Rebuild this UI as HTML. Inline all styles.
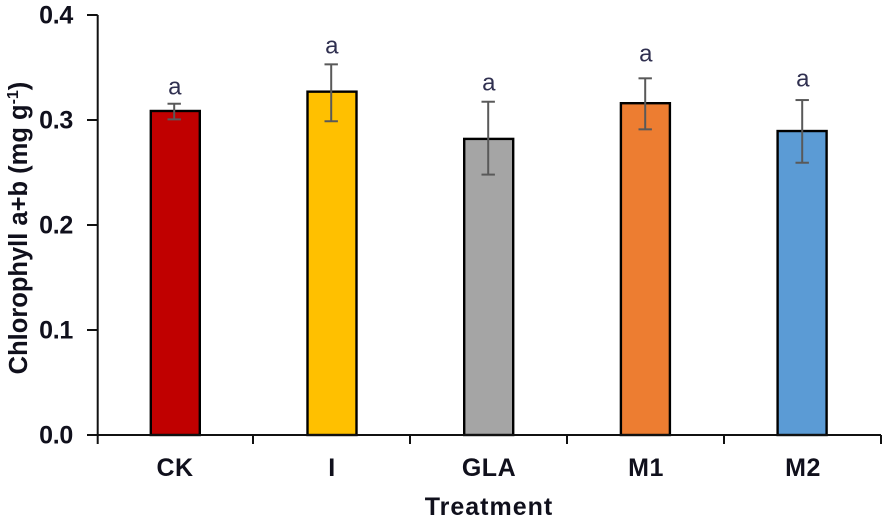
<!DOCTYPE html>
<html lang="en">
<head>
<meta charset="utf-8">
<title>Chlorophyll a+b by treatment</title>
<style>
html,body{margin:0;padding:0;background:#fff;}
svg{display:block;font-family:"Liberation Sans",Arial,sans-serif;filter:blur(0.35px);}
</style>
</head>
<body>
<svg id="chart" width="885" height="518" viewBox="0 0 885 518" xmlns="http://www.w3.org/2000/svg"></svg>
<script>
const categories = ['CK', 'I', 'GLA', 'M1', 'M2'];
const chlorophyll = [0.3086, 0.327, 0.282, 0.316, 0.2895];
const errorHigh = [0.3155, 0.353, 0.3174, 0.3397, 0.319];
const errorLow = [0.3006, 0.2988, 0.248, 0.2911, 0.2593];
const letterLabels = ['a', 'a', 'a', 'a', 'a'];
const letterHeights = [0.3245, 0.3633, 0.328, 0.3555, 0.332];
const barColors = ['#c00000', '#ffc000', '#a5a5a5', '#ed7d31', '#5b9bd5'];
const yTicks = [0, 0.1, 0.2, 0.3, 0.4];

const NS = 'http://www.w3.org/2000/svg';
const svg = document.getElementById('chart');
const axisLeft = 97.7;
const bandStart = 96;
const bandStep = 157;
const barStart = 175.3;
const barStep = 156.7;
const barWidth = 49;
const yBase = 435;
const yScale = 1050;
const x = i => bandStart + bandStep * (i + 0.5);
const barX = i => barStart + barStep * i;
const y = v => yBase - v * yScale;

function make(tag, attrs, text) {
  const el = document.createElementNS(NS, tag);
  for (const k in attrs) el.setAttribute(k, attrs[k]);
  if (text !== undefined) el.textContent = text;
  svg.appendChild(el);
  return el;
}

categories.forEach((c, i) => {
  const bar = make('rect', {
    x: barX(i) - barWidth / 2, y: y(chlorophyll[i]),
    width: barWidth, height: yBase - y(chlorophyll[i]),
    fill: barColors[i], stroke: '#000', 'stroke-width': 2.4
  });
  
  

  const stem = make('line', {
    x1: x(i) - 0.3, x2: x(i) - 0.3, y1: y(errorHigh[i]), y2: y(errorLow[i]),
    stroke: '#595959', 'stroke-width': 2
  });
  
  

  [errorHigh[i], errorLow[i]].forEach(v => {
    const cap = make('line', {
      x1: x(i) - 7, x2: x(i) + 6.4, y1: y(v), y2: y(v),
      stroke: '#595959', 'stroke-width': 2
    });
    
    
  });

  const letter = make('text', {
    x: x(i) + 0.3, y: y(letterHeights[i]), 'text-anchor': 'middle',
    'font-size': 24, fill: '#303050'
  }, letterLabels[i]);
  
  

  const label = make('text', {
    x: x(i) + 0.5, y: 476, 'text-anchor': 'middle',
    'font-size': 25, 'font-weight': 'bold', 'letter-spacing': 0.5, fill: '#10101c'
  }, c);
  
  

  const tick = make('line', {
    x1: i === 0 ? axisLeft : bandStart + bandStep * i,
    x2: i === 0 ? axisLeft : bandStart + bandStep * i,
    y1: yBase, y2: 444, stroke: '#111', 'stroke-width': 2
  });
  
  
});

const endTick = make('line', {
  x1: bandStart + bandStep * categories.length, x2: bandStart + bandStep * categories.length,
  y1: yBase, y2: 444, stroke: '#111', 'stroke-width': 2
});



yTicks.forEach(t => {
  const tick = make('line', {
    x1: 87, x2: axisLeft, y1: y(t), y2: y(t), stroke: '#111', 'stroke-width': 2
  });
  
  

  const label = make('text', {
    x: 73, y: y(t) + 8.5, 'text-anchor': 'end',
    'font-size': 25, 'font-weight': 'bold', 'letter-spacing': -0.3, fill: '#10101c'
  }, t.toFixed(1));
  
  
});

const yAxis = make('line', {
  x1: axisLeft, x2: axisLeft, y1: y(yTicks[yTicks.length - 1]), y2: yBase,
  stroke: '#111', 'stroke-width': 2
});



const xAxis = make('line', {
  x1: 87, x2: bandStart + bandStep * categories.length, y1: yBase, y2: yBase,
  stroke: '#111', 'stroke-width': 2
});



const xTitle = make('text', {
  x: 489, y: 515, 'text-anchor': 'middle',
  'font-size': 25, 'font-weight': 'bold', 'letter-spacing': 1, fill: '#10101c'
}, 'Treatment');



const yTitle = make('text', {
  transform: 'translate(27 228) rotate(-90)', 'text-anchor': 'middle',
  'font-size': 25.5, 'font-weight': 'bold', fill: '#10101c'
});


yTitle.textContent = 'Chlorophyll a+b (mg g';
const sup = document.createElementNS(NS, 'tspan');
sup.setAttribute('dy', '-9');
sup.setAttribute('font-size', '16');
sup.textContent = '-1';
yTitle.appendChild(sup);
const close = document.createElementNS(NS, 'tspan');
close.setAttribute('dy', '9');
close.textContent = ')';
yTitle.appendChild(close);
</script>
</body>
</html>
